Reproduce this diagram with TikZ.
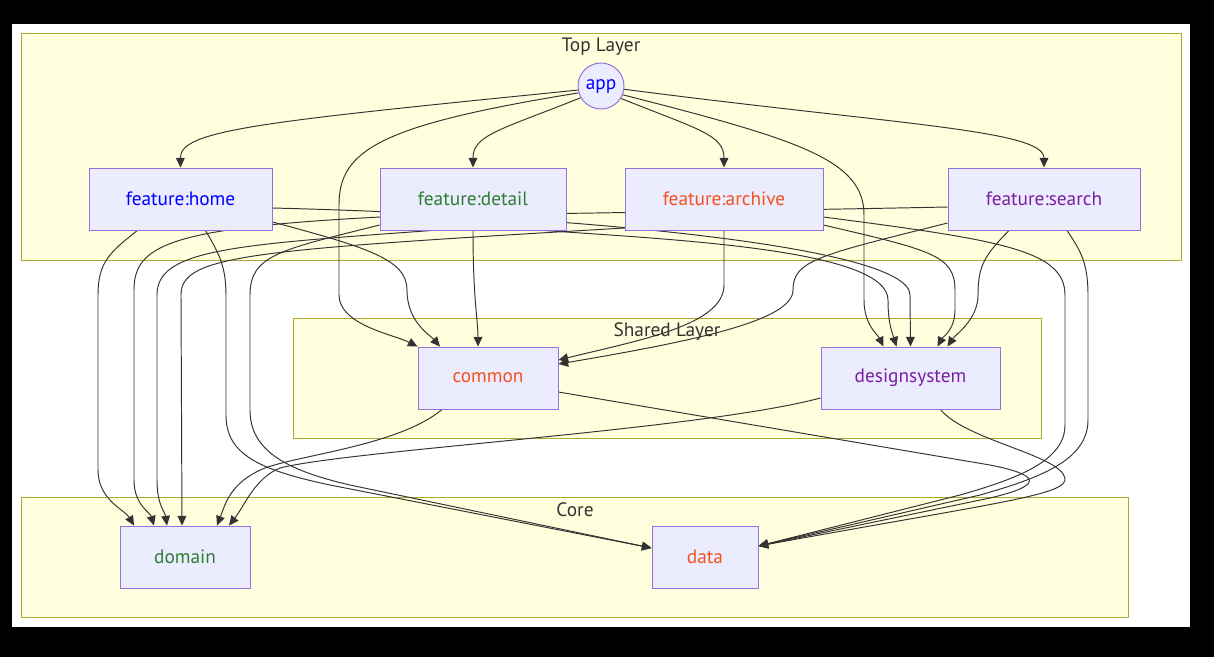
\documentclass[tikz,border=0pt]{standalone}
\usepackage{fontspec}
\setmainfont{PT Sans}
\usetikzlibrary{arrows.meta,calc}
\definecolor{clfill}{HTML}{FFFFDE}
\definecolor{cledge}{HTML}{AAAA33}
\definecolor{ndfill}{HTML}{ECECFF}
\definecolor{ndedge}{HTML}{9370DB}
\definecolor{lnk}{HTML}{333333}
\definecolor{cblue}{HTML}{0000FF}
\definecolor{cgreen}{HTML}{2E7D32}
\definecolor{corange}{HTML}{F4511E}
\definecolor{cpurple}{HTML}{7B1FA2}
\pgfdeclarelayer{bg}\pgfdeclarelayer{links}
\pgfsetlayers{bg,links,main}

\begin{document}
\begin{tikzpicture}[x=0.02cm, y=-0.02cm, line cap=round,
  every node/.style={font=\fontsize{11}{13}\selectfont},
  mod/.style={draw=ndedge, fill=ndfill, line width=0.55pt, minimum height=1.24cm, inner sep=0pt},
  cluster/.style={draw=cledge, fill=clfill, line width=0.55pt},
  dep/.style={draw=lnk, line width=0.55pt, -{Triangle[length=5.5pt,width=5pt]}}]
  \begin{pgfonlayer}{bg}
    \fill[black] (0,0) rectangle (1214,657);
    \fill[white] (12,24) rectangle (1190,627);
    \draw[cluster] (21,33) rectangle (1181,260);
    \draw[cluster] (293,318) rectangle (1041,438);
    \draw[cluster] (21,497) rectangle (1128,617);
    \node[text=lnk] (toptitle) at (601,47) {Top Layer};
    \node[text=lnk] (sharedtitle) at (667,332) {Shared Layer};
    \node[text=lnk] (coretitle) at (575,510) {Core};
  \end{pgfonlayer}

  \node[mod, circle, minimum size=0.92cm, text=cblue] (app) at (601,86) {app};
  \node[mod, minimum width=3.66cm, text=cblue] (home) at (180.5,199) {feature:home};
  \node[mod, minimum width=3.72cm, text=cgreen] (detail) at (473,199) {feature:detail};
  \node[mod, minimum width=3.96cm, text=corange] (archive) at (724,199) {feature:archive};
  \node[mod, minimum width=3.84cm, text=cpurple] (search) at (1044,199) {feature:search};
  \node[mod, minimum width=2.8cm, text=corange] (common) at (488,378) {common};
  \node[mod, minimum width=3.58cm, text=cpurple] (designsystem) at (910.5,378) {designsystem};
  \node[mod, minimum width=2.6cm, text=cgreen] (domain) at (185,557) {domain};
  \node[mod, minimum width=2.12cm, text=corange] (data) at (705,557) {data};

  \begin{pgfonlayer}{links}
    % app
    \draw[dep] (app.190) .. controls (260,122) and (180,130) .. (home.north);
    \draw[dep] (app.210) .. controls (500,130) and (473,135) .. (detail.north);
    \draw[dep] (app.328) .. controls (700,130) and (724,135) .. (archive.north);
    \draw[dep] (app.352) .. controls (900,125) and (1044,130) .. (search.north);
    \draw[dep] (app.197) .. controls (380,125) and (339,150) .. (339,205) -- (339,295)
      .. controls (339,325) and (395,335) .. (common.north west);
    \draw[dep] (app.338) .. controls (800,140) and (864,160) .. (864,215) -- (864,300)
      .. controls (864,325) and (878,335) .. ($(designsystem.north)+(-27,0)$);
    % feature:home
    \draw[dep] ($(home.south)+(-43,0)$) .. controls (110,252) and (98,262) .. (98,295) -- (98,470)
      .. controls (98,500) and (125,510) .. ($(domain.north)+(-51,0)$);
    \draw[dep] ($(home.south)+(25,0)$) .. controls (218,252) and (226,265) .. (226,295) -- (226,415)
      .. controls (226,455) and (260,470) .. (330,485) -- ($(data.west)+(0,-9)$);
    \draw[dep] ($(home.east)+(0,23)$) .. controls (370,248) and (407,260) .. (407,290)
      .. controls (407,322) and (430,335) .. ($(common.north)+(-48,0)$);
    \draw[dep] ($(home.east)+(0,9)$) .. controls (560,215) and (910,245) .. (910,295) -- (designsystem.north);
    % feature:detail
    \draw[dep] ($(detail.south)+(-41,0)$) .. controls (230,245) and (157,250) .. (157,295) -- (157,480)
      .. controls (157,505) and (165,512) .. ($(domain.north)+(-18,0)$);
    \draw[dep] ($(detail.west)+(0,26)$) .. controls (280,250) and (250,255) .. (250,295) -- (250,410)
      .. controls (250,450) and (285,470) .. (350,485) -- ($(data.west)+(0,-9)$);
    \draw[dep] (detail.south) .. controls (473,300) and (478,320) .. ($(common.north)+(-10,0)$);
    \draw[dep] ($(detail.south)+(71,0)$) .. controls (680,240) and (888,250) .. (888,300)
      .. controls (888,325) and (893,335) .. ($(designsystem.north)+(-14,0)$);
    % feature:archive
    \draw[dep] (archive.south) -- (724,285) .. controls (724,325) and (640,340) .. ($(common.east)+(0,-18)$);
    \draw[dep] ($(archive.west)+(0,29)$) .. controls (250,250) and (181,255) .. (181,295) -- ($(domain.north)+(-3,0)$);
    \draw[dep] ($(archive.east)+(0,18)$) .. controls (1000,240) and (1065,250) .. (1065,295) -- (1065,425)
      .. controls (1065,460) and (1020,478) .. (960,495) -- ($(data.east)+(0,-11)$);
    \draw[dep] ($(archive.east)+(0,26)$) .. controls (930,250) and (955,255) .. (955,290) -- (955,310)
      .. controls (955,330) and (942,338) .. ($(designsystem.north)+(27,0)$);
    % feature:search
    \draw[dep] ($(search.west)+(0,8)$) .. controls (700,212) and (420,215) .. (380,217)
      .. controls (170,228) and (134,245) .. (134,290) -- (134,480)
      .. controls (134,505) and (150,512) .. ($(domain.north)+(-31,0)$);
    \draw[dep] ($(search.west)+(0,24)$) .. controls (820,255) and (793,260) .. (793,290)
      .. controls (793,320) and (700,340) .. ($(common.east)+(0,-14)$);
    \draw[dep] ($(search.south)+(-35,0)$) .. controls (985,255) and (978,265) .. (978,295)
      .. controls (978,320) and (955,335) .. ($(designsystem.north)+(37,0)$);
    \draw[dep] ($(search.south)+(23,0)$) .. controls (1080,250) and (1088,262) .. (1088,295) -- (1088,420)
      .. controls (1088,460) and (1040,478) .. (980,495) -- ($(data.east)+(0,-11)$);
    % shared layer
    \draw[dep] ($(common.south)+(-46,0)$) .. controls (400,445) and (300,455) .. (265,468)
      .. controls (230,482) and (225,505) .. ($(domain.north)+(32,0)$);
    \draw[dep] ($(common.east)+(0,14)$) -- (990,465) .. controls (1040,475) and (1045,485) .. (990,498)
      -- ($(data.east)+(0,-11)$);
    \draw[dep] ($(designsystem.west)+(0,20)$) .. controls (700,430) and (350,450) .. (280,468)
      .. controls (255,478) and (245,505) .. ($(domain.north)+(44,0)$);
    \draw[dep] ($(designsystem.south)+(30,0)$) .. controls (965,440) and (1060,455) .. (1065,478)
      .. controls (1068,495) and (1000,502) .. ($(data.east)+(0,-11)$);
  \end{pgfonlayer}
\end{tikzpicture}
\end{document}
